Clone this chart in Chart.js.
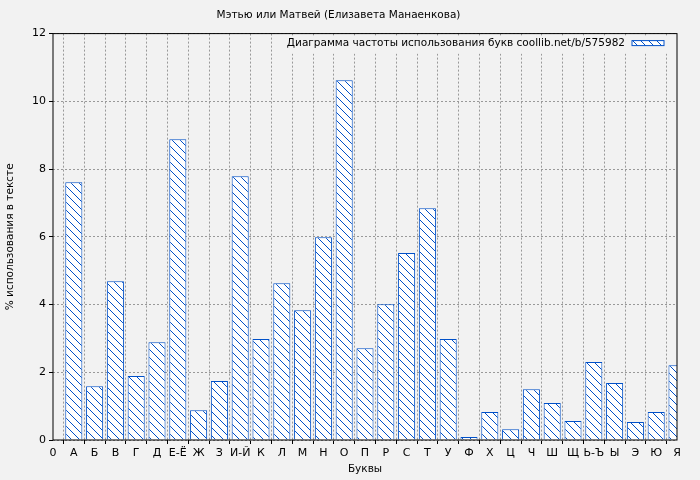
<!DOCTYPE html><html><head><meta charset="utf-8">
<script src="https://cdn.jsdelivr.net/npm/chart.js@4"></script>
<style>html,body{margin:0;background:#f2f2f2}#w{width:700px;height:480px}</style></head><body><div id="w"><canvas id="c"></canvas></div>
<script>
const categories=['0','А','Б','В','Г','Д','Е-Ё','Ж','З','И-Й','К','Л','М','Н','О','П','Р','С','Т','У','Ф','Х','Ц','Ч','Ш','Щ','Ь-Ъ','Ы','Э','Ю','Я'];
const values=[null,7.61,1.59,4.69,1.89,2.89,8.88,0.88,1.74,7.79,2.98,4.63,3.83,5.99,10.62,2.71,4.01,5.52,6.84,2.98,0.09,0.83,0.32,1.50,1.09,0.56,2.30,1.68,0.53,0.83,2.21];
const yTicks=[0,2,4,6,8,10,12];
const legendText='Диаграмма частоты использования букв coollib.net/b/575982';
function hatch(){const c=document.createElement('canvas');c.width=8;c.height=8;const x=c.getContext('2d');x.fillStyle='#fff';x.fillRect(0,0,8,8);x.strokeStyle='#0050c8';x.lineWidth=1;x.beginPath();x.moveTo(0,0);x.lineTo(8,8);x.moveTo(-4,4);x.lineTo(4,12);x.moveTo(4,-4);x.lineTo(12,4);x.stroke();return x.createPattern(c,'repeat');}
const pat=hatch();
const bg={id:'bg',beforeDraw(ch){const x=ch.ctx;x.save();x.fillStyle='#f2f2f2';x.fillRect(0,0,700,480);x.restore();},
afterDraw(ch){const a=ch.chartArea,x=ch.ctx;x.save();x.font='10.5px "DejaVu Sans"';const tw=x.measureText(legendText).width;
x.fillStyle='#f2f2f2';x.fillRect(a.right-tw-58,a.top+2,tw+56,18);x.fillStyle='#000';x.textBaseline='middle';x.fillText(legendText,a.right-tw-52,a.top+10);
x.fillStyle=pat;x.fillRect(a.right-45,a.top+7,32,5);x.strokeStyle='#0050c8';x.strokeRect(a.right-45,a.top+7,32,5);
x.strokeStyle='#000';x.lineWidth=1;x.strokeRect(a.left,a.top,a.right-a.left,a.bottom-a.top);x.restore();}};
new Chart(document.getElementById('c'),{type:'bar',data:{labels:categories,datasets:[{data:values,backgroundColor:pat,borderColor:'#0050c8',borderWidth:1,barPercentage:0.82,categoryPercentage:1}]},
options:{responsive:true,maintainAspectRatio:false,animation:false,layout:{padding:{left:0,right:23,top:0,bottom:0}},
plugins:{legend:{display:false},tooltip:{enabled:false},title:{display:true,text:'Мэтью или Матвей (Елизавета Манаенкова)',color:'#000',font:{family:'DejaVu Sans',size:10.5,weight:'normal'},padding:{top:9,bottom:12}}},
scales:{x:{offset:false,grid:{color:'#999',tickLength:4,tickColor:'#000'},border:{display:false,dash:[2,2]},ticks:{color:'#000',font:{family:'DejaVu Sans',size:11},maxRotation:0,autoSkip:false},title:{display:true,text:'Буквы',color:'#000',font:{family:'DejaVu Sans',size:10.5},padding:{top:2}},afterFit:s=>{s.height=40}},
y:{min:0,max:12,afterBuildTicks:s=>{s.ticks=yTicks.map(v=>({value:v}))},grid:{color:'#999',tickLength:4,tickColor:'#000'},border:{display:false,dash:[2,2]},ticks:{color:'#000',font:{family:'DejaVu Sans',size:11}},title:{display:true,text:'% использования в тексте',color:'#000',font:{family:'DejaVu Sans',size:10.5}},afterFit:s=>{s.width=53}}}},plugins:[bg]});
</script></body></html>
